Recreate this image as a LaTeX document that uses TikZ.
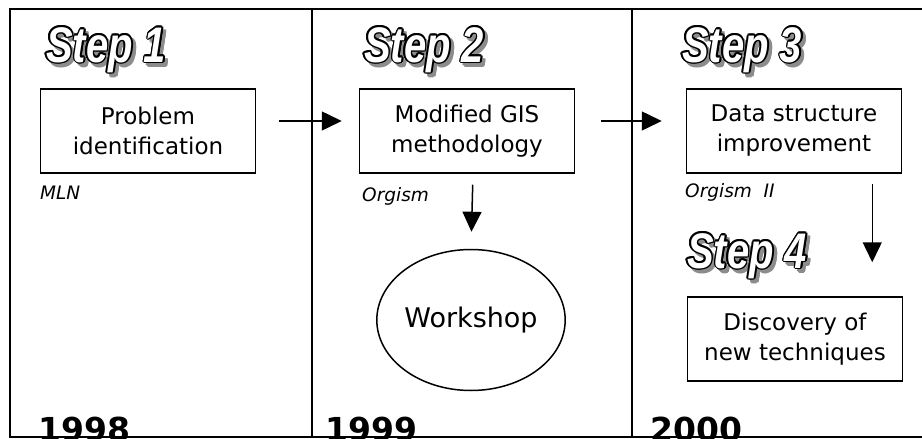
\documentclass[tikz,border=0pt]{standalone}
\usepackage{fontspec}
\setmainfont{DejaVu Sans}
\newfontfamily\stepfont{Liberation Sans}[FakeStretch=0.8]
\usetikzlibrary{positioning,calc}
\usetikzlibrary{arrows.meta,shapes.geometric}
\definecolor{ShadowGray}{RGB}{140,140,140}
\tikzset{
	stage/.style={draw=black,line width=1.5pt,minimum width=215pt,minimum height=84pt,
		inner sep=0pt,align=center,font=\fontsize{23}{30}\selectfont},
	meet/.style={ellipse,draw=black,line width=1.5pt,minimum width=159pt,minimum height=141pt,
		inner sep=0pt,font=\fontsize{27}{30}\selectfont},
	flow/.style={draw=black,line width=1.5pt,-{Triangle[length=20pt,width=19pt]}},
	frame/.style={draw=black,line width=2pt},
	tool/.style={anchor=west,inner sep=0pt,font=\itshape\fontsize{18.5}{20}\selectfont},
	year/.style={anchor=base west,inner sep=0pt,font=\bfseries\fontsize{33}{33}\selectfont},
	steptxt/.style={anchor=base west,inner sep=0pt,font=\stepfont\bfseries\itshape\fontsize{50}{50}\selectfont},
}
% outlined step heading with a grey shadow
\newcommand{\stepmark}[3]{%
	\foreach \a in {0,45,...,315}
	\node[steptxt,text=ShadowGray] at ($(#2)+(3.5,3.5)+(\a:1.5)$) {#3};
	\foreach \a in {0,30,...,330}
	\node[steptxt,text=black] at ($(#2)+(\a:1.6)$) {#3};
	\node[steptxt,text=white] (#1) at (#2) {#3};
}

\begin{document}
\begin{tikzpicture}[x=1pt,y=-1pt]
	\useasboundingbox (0,0) rectangle (922,439);
	% frame and year columns
	\draw[frame] (922,9) -- (10,9) -- (10,437) -- (922,437);
	\foreach \x in {312,632}
	\draw[frame,line width=1.5pt] (\x,9) -- (\x,437);
	
	\stepmark{s1}{46,62}{Step 1}
	\stepmark{s2}{364,62}{Step 2}
	\stepmark{s3}{682,62}{Step 3}
	\stepmark{s4}{687,268}{Step 4}
	
	\node[stage] (prob) at (148,131) {Problem\\identification};
	\node[stage] (gis) at (467,131) {Modified GIS\\methodology};
	\node[stage] (imp) at (794,131) {Data structure\\improvement};
	\node[stage] (disc) at (795,339) {Discovery of\\new techniques};
	\node[meet] (work) at (471,320) {Workshop};
	
	\node[tool] (mln) at (40,193) {MLN};
	\node[tool] (org) at (362,196) {Orgism};
	\node[tool] (org2) at (685,192) {Orgism\ \ II};
	
	\node[year] (y98) at (38,441) {1998};
	\node[year] (y99) at (325,441) {1999};
	\node[year] (y00) at (650,441) {2000};
	
	\draw[flow,shorten <=23pt,shorten >=17pt] ([yshift=10pt]prob.east) -- ([yshift=10pt]gis.west);
	\draw[flow,shorten <=26pt,shorten >=24pt] ([yshift=10pt]gis.east) -- ([yshift=10pt]imp.west);
	\draw[flow,shorten <=11pt,shorten >=17pt] ([xshift=6pt]gis.south) -- (work.north);
	\draw[flow,shorten <=10pt,shorten >=34pt] ([xshift=-30pt]imp.south east) -- ([xshift=-31pt]disc.north east);
\end{tikzpicture}
\end{document}
